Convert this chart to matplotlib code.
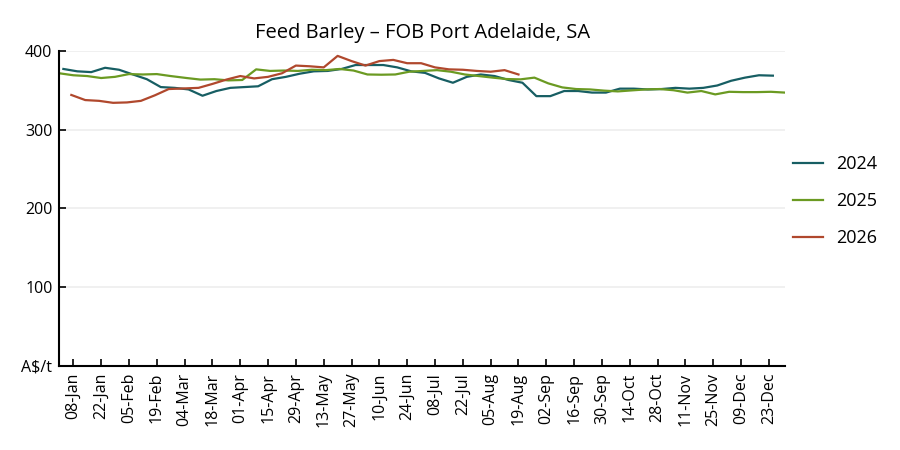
import pandas as pd
import matplotlib.pyplot as plt
import matplotlib.dates as mdates

plt.rcParams['font.family'] = ['Open Sans', 'DejaVu Sans']

# Weekly prices (A$/t), Wednesday observations
start_2024 = '2024-01-03'
prices_2024 = [377, 374, 373, 378.5, 376, 370, 364, 354, 353, 351, 343, 349, 353, 354,
               355, 364, 367, 371, 374, 374.5, 377, 382, 382, 382, 379, 374, 372, 365,
               359.5, 367, 370, 368, 363, 359.5, 342.5, 342.5, 349, 349, 347, 347, 352,
               352, 351, 351.5, 353, 352, 353, 356, 362, 366, 369, 368.5]

start_2025 = '2025-01-01'
prices_2025 = [371.5, 369, 368, 365.5, 367, 370.5, 370, 370.5, 368, 365.5, 363.5, 364,
               362.5, 363, 376.5, 374.5, 375, 374.5, 376, 375.5, 377, 375, 370, 369.7,
               370, 373.5, 374.5, 375.5, 373.5, 370, 368, 366, 364.2, 363.8, 366, 358.7,
               353.6, 351.5, 351, 349.5, 348.5, 349.8, 351, 351.5, 350, 347, 349, 344.7,
               348, 347.6, 347.6, 348, 347]

start_2026 = '2026-01-07'
prices_2026 = [344, 337.5, 336.5, 334, 334.5, 336.5, 343.5, 351.5, 352.3, 353, 358, 363.5,
               368, 365, 367, 371.5, 381.3, 380.4, 379, 393.6, 387, 381.3, 387, 388.5,
               384.3, 384.3, 379, 376.5, 376, 374.5, 373.5, 375.5, 370]

series = [('2024', start_2024, prices_2024, '#175e63'),
          ('2025', start_2025, prices_2025, '#6b9a22'),
          ('2026', start_2026, prices_2026, '#b0482d')]

fig = plt.figure(figsize=(9, 4.5), dpi=100)
ax = fig.add_axes([0.066, 0.187, 0.806, 0.70])

for name, start, vals, col in series:
    dates = pd.date_range(start, periods=len(vals), freq='7D')
    # put every year on the same calendar axis
    x = [d.replace(year=2024) for d in dates]
    ax.plot(x, vals, color=col, lw=1.6, label=name)

ax.set_xlim(pd.Timestamp('2024-01-01'), pd.Timestamp('2024-12-31'))
ax.set_ylim(0, 400)

ticks = pd.date_range('2024-01-08', periods=26, freq='14D')
ax.set_xticks(ticks)
ax.xaxis.set_major_formatter(mdates.DateFormatter('%d-%b'))
ax.tick_params(axis='x', rotation=90, direction='in', length=5, width=1.2, labelsize=11.5, pad=5)

ax.set_yticks([0, 100, 200, 300, 400])
ax.set_yticklabels(['A\\$/t', '100', '200', '300', '400'])
ax.tick_params(axis='y', direction='in', length=5, width=1.2, labelsize=11.5, pad=5)

ax.grid(axis='y', color='#eeeeee', lw=1.2)
ax.set_axisbelow(True)
for s in ['top', 'right']:
    ax.spines[s].set_visible(False)
for s in ['left', 'bottom']:
    ax.spines[s].set_linewidth(1.5)

ax.set_title('Feed Barley \u2013 FOB Port Adelaide, SA', fontsize=14.5, pad=9)

ax.legend(loc='center left', bbox_to_anchor=(1.0, 0.522), frameon=False, borderaxespad=0.05,
          fontsize=13, handlelength=1.65, labelspacing=1.05, handletextpad=0.75)

plt.savefig('out.png', dpi=100)
